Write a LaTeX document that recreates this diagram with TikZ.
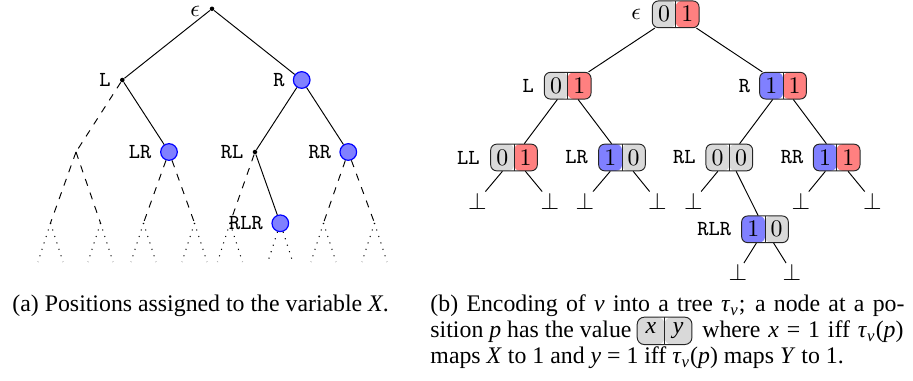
\documentclass[tikz,border=0pt]{standalone}
\usepackage{fontspec}
\newfontfamily\capfont{Liberation Serif}
\newcommand\bitpair[2]{\makebox[9.8pt]{$#1$}\makebox[9.8pt]{$#2$}}
\begin{document}
\begin{tikzpicture}[x=0.42pt,y=-0.42pt,
  treedot/.style={circle, fill=black, inner sep=0pt, minimum size=1.9pt},
  vcirc/.style={circle, draw=blue, fill=blue!50, inner sep=0pt, minimum size=7pt, line width=0.5pt},
  tlbl/.style={font=\fontsize{9}{11}\selectfont\ttfamily, inner sep=0pt, anchor=east},
  mlbl/.style={font=\fontsize{10}{12}\selectfont, inner sep=0pt, anchor=east},
  tedge/.style={line width=0.4pt},
  dashedge/.style={line width=0.4pt, dashed},
  dotedge/.style={line width=0.45pt, dash pattern=on 0.45pt off 2.4pt},
  bits/.style 2 args={draw=black!85, rounded corners=2.5pt, inner sep=0pt,
    minimum width=19.6pt, minimum height=11.2pt, font=\fontsize{10}{12}\selectfont,
    path picture={
      \fill[#1] (path picture bounding box.south west) rectangle (path picture bounding box.north);
      \fill[#2] (path picture bounding box.south) rectangle (path picture bounding box.north east);
      \draw[black!85] (path picture bounding box.south) -- (path picture bounding box.north);
    }},
  leaf/.style={inner sep=0.3pt, font=\fontsize{10}{12}\selectfont},
  captext/.style={font=\capfont\fontsize{10}{12}\selectfont, inner sep=0pt}
]
\useasboundingbox (0,0) rectangle (913,381);

% ---------------- left tree ----------------
\node[treedot] (a0) at (212,8.8) {};
\node[treedot] (aL) at (122.3,80) {};
\node[vcirc] (aR) at (301.7,80) {};
\node[vcirc] (aLR) at (169,152) {};
\node[treedot] (aRL) at (255,152) {};
\node[vcirc] (aRR) at (348.3,152) {};
\node[vcirc] (aRLR) at (280.3,223.3) {};
\coordinate (aLL) at (76,152);
\coordinate (gLLL) at (50.5,223);
\coordinate (gLLR) at (100.5,223);
\coordinate (gLRL) at (143.5,223);
\coordinate (gLRR) at (194.5,223);
\coordinate (gRLL) at (230,223);
\coordinate (gRRL) at (323.5,223);
\coordinate (gRRR) at (374.5,223);

\node[mlbl] (ta0) at ([xshift=-4.8pt,yshift=-1.2pt]a0.center) {$\epsilon$};
\node[tlbl] (taL) at ([xshift=-4.7pt]aL.center) {L};
\node[tlbl] (taR) at ([xshift=-7pt]aR.center) {R};
\node[tlbl] (taLR) at ([xshift=-7.2pt]aLR.center) {LR};
\node[tlbl] (taRL) at ([xshift=-4.7pt]aRL.center) {RL};
\node[tlbl] (taRR) at ([xshift=-7pt]aRR.center) {RR};
\node[tlbl] (taRLR) at ([xshift=-7.1pt]aRLR.center) {RLR};

\draw[tedge] (a0) -- (aL);
\draw[tedge] (a0) -- (aR);
\draw[tedge] (aL) -- (aLR);
\draw[tedge] (aR) -- (aRL);
\draw[tedge] (aR) -- (aRR);
\draw[tedge] (aRL) -- (aRLR);

\draw[dashedge] (aL) -- (aLL);
\draw[dashedge] (aLL) -- (gLLL);
\draw[dashedge] (aLL) -- (gLLR);
\draw[dashedge] (aLR) -- (gLRL);
\draw[dashedge] (aLR) -- (gLRR);
\draw[dashedge] (aRL) -- (gRLL);
\draw[dashedge] (aRR) -- (gRRL);
\draw[dashedge] (aRR) -- (gRRR);

\foreach \g/\x in {gLLL/50.5, gLLR/100.5, gLRL/143.5, gLRR/194.5, gRLL/230, aRLR/280.3, gRRL/323.5, gRRR/374.5}{
  \coordinate (\g-l) at (\x-12.5,262);
  \coordinate (\g-r) at (\x+12.5,262);
  \draw[dotedge] (\g) -- (\g-l);
  \draw[dotedge] (\g) -- (\g-r);
}

% ---------------- right tree ----------------
\node[bits={black!15}{red!50}] (b0) at (675.7,14.3) {\bitpair01};
\node[bits={black!15}{red!50}] (bL) at (567.7,85.7) {\bitpair01};
\node[bits={blue!50}{red!50}] (bR) at (783,85.7) {\bitpair11};
\node[bits={black!15}{red!50}] (bLL) at (514,157.5) {\bitpair01};
\node[bits={blue!50}{black!15}] (bLR) at (622,157.5) {\bitpair10};
\node[bits={black!15}{black!15}] (bRL) at (729.3,157.5) {\bitpair00};
\node[bits={blue!50}{red!50}] (bRR) at (836.7,157.5) {\bitpair11};
\node[bits={blue!50}{black!15}] (bRLR) at (765,229.3) {\bitpair10};

\node[mlbl] (tb0) at ([xshift=-4.4pt]b0.west) {$\epsilon$};
\node[tlbl] (tbL) at ([xshift=-4pt]bL.west) {L};
\node[tlbl] (tbR) at ([xshift=-3.6pt]bR.west) {R};
\node[tlbl] (tbLL) at ([xshift=-4.2pt]bLL.west) {LL};
\node[tlbl] (tbLR) at ([xshift=-4.1pt]bLR.west) {LR};
\node[tlbl] (tbRL) at ([xshift=-3.9pt]bRL.west) {RL};
\node[tlbl] (tbRR) at ([xshift=-3.8pt]bRR.west) {RR};
\node[tlbl] (tbRLR) at ([xshift=-4pt]bRLR.west) {RLR};

\node[leaf] (lLL1) at (477.5,201) {$\bot$};
\node[leaf] (lLL2) at (550,201) {$\bot$};
\node[leaf] (lLR1) at (585,201) {$\bot$};
\node[leaf] (lLR2) at (657.3,201) {$\bot$};
\node[leaf] (lRL1) at (693.3,201) {$\bot$};
\node[leaf] (lRR1) at (801,201) {$\bot$};
\node[leaf] (lRR2) at (872.5,201) {$\bot$};
\node[leaf] (lRLR1) at (738,272.5) {$\bot$};
\node[leaf] (lRLR2) at (792,272.5) {$\bot$};

\draw[tedge] (b0) -- (bL);
\draw[tedge] (b0) -- (bR);
\draw[tedge] (bL) -- (bLL);
\draw[tedge] (bL) -- (bLR);
\draw[tedge] (bR) -- (bRL);
\draw[tedge] (bR) -- (bRR);
\draw[tedge] (bRL) -- (bRLR);
\draw[tedge] (bLL) -- (lLL1);
\draw[tedge] (bLL) -- (lLL2);
\draw[tedge] (bLR) -- (lLR1);
\draw[tedge] (bLR) -- (lLR2);
\draw[tedge] (bRL) -- (lRL1);
\draw[tedge] (bRR) -- (lRR1);
\draw[tedge] (bRR) -- (lRR2);
\draw[tedge] (bRLR) -- (lRLR1);
\draw[tedge] (bRLR) -- (lRLR2);

% ---------------- captions ----------------
\node[captext, anchor=base west] (capa) at (12,312) {(a) Positions assigned to the variable \textit{X}.};
\node[captext, anchor=base west] (capb1) at (430,312) {\makebox[199.1pt][s]{(b) Encoding of \textit{ν} into a tree \textit{τ}\textsubscript{\textit{ν}}; a node at a po-}};
\node[captext, anchor=base west] (capb2a) at (430,338) {sition \textit{p} has the value};
\node[bits={black!15}{black!15}, minimum width=23pt, minimum height=11.5pt, rounded corners=3pt, anchor=west] (xy) at ([xshift=2pt, yshift=3pt]capb2a.base east) {\capfont\makebox[11.5pt]{\textit{x}}\makebox[11.5pt]{\textit{y}}};
\node[captext, anchor=base east] (capb2b) at (904,338) {\makebox[84.5pt][s]{where \textit{x} = 1 iff \textit{τ}\textsubscript{\textit{ν}}(\textit{p})}};
\node[captext, anchor=base west] (capb3) at (430,364) {maps \textit{X} to 1 and \textit{y} = 1 iff \textit{τ}\textsubscript{\textit{ν}}(\textit{p}) maps \textit{Y} to 1.};
\end{tikzpicture}
\end{document}
